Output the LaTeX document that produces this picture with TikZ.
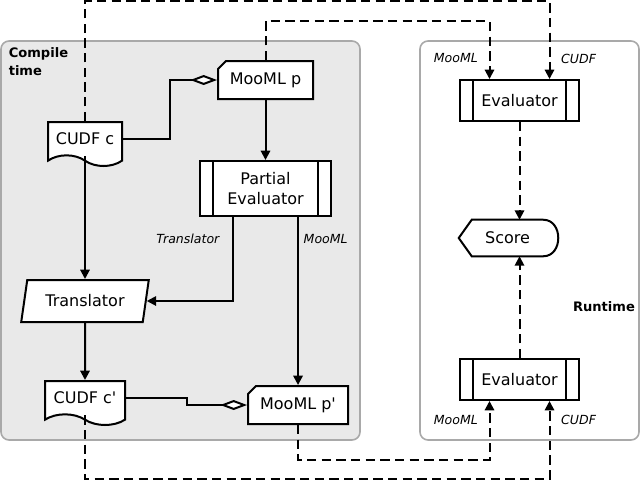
\documentclass[tikz,border=0pt]{standalone}
\usepackage{fontspec}
\setmainfont{DejaVu Sans}
\usepackage{tikz}
\usepackage{xcolor}
\usetikzlibrary{arrows.meta}
\usetikzlibrary{calc}
\usetikzlibrary{shapes.misc}
\usetikzlibrary{shapes.geometric}
\usetikzlibrary{shapes.symbols}
\definecolor{compilebg}{HTML}{E9E9E9}
\definecolor{groupline}{HTML}{A9A9A9}
\newcommand{\boxfont}{\fontsize{12}{14.4}\selectfont}
\newcommand{\tagfont}{\itshape\fontsize{9.4}{11}\selectfont}
\newcommand{\groupfont}{\bfseries\fontsize{9.8}{13.5}\selectfont}
\tikzset{
  % A rounded box grouping one phase
  group/.style={draw=groupline, line width=1.2pt, rounded corners=6pt, inner sep=0pt},
  grouplbl/.style={font=\groupfont, align=left, inner sep=0pt},
  % A program card (cut corner)
  card/.style={
    chamfered rectangle, chamfered rectangle corners=north west,
    chamfered rectangle xsep=3pt, chamfered rectangle ysep=3pt,
    draw, fill=white, line width=1.5pt, font=\boxfont, inner sep=0pt,
    minimum height=28.5pt, minimum width=#1},
  % A document with a wavy bottom
  docu/.style={
    tape, tape bend top=none, tape bend bottom=out and in, tape bend height=8pt,
    draw, fill=white, line width=1.5pt, font=\boxfont, inner sep=0pt,
    minimum height=33pt, minimum width=#1},
  % A predefined process
  proc/.style={
    rectangle, draw, fill=white, line width=1.5pt, font=\boxfont,
    align=center, inner sep=0pt,
    path picture={
      \draw[line width=1.5pt]
        ([xshift=9.5pt]path picture bounding box.north west) -- ([xshift=9.5pt]path picture bounding box.south west)
        ([xshift=-9.5pt]path picture bounding box.north east) -- ([xshift=-9.5pt]path picture bounding box.south east);}},
  % Data in / out
  io/.style={
    trapezium, trapezium left angle=71.6, trapezium right angle=108.4,
    trapezium stretches=true, draw, fill=white, line width=1.5pt,
    font=\boxfont, inner sep=0pt, minimum width=96pt, minimum height=31.5pt},
  % A display
  disp/.style={
    rectangle, font=\boxfont, inner sep=0pt,
    minimum width=53.25pt, minimum height=27pt,
    append after command={\pgfextra{
      \draw[line width=1.5pt]
        (\tikzlastnode.north west) -- (\tikzlastnode.north east)
        .. controls ([xshift=15pt]\tikzlastnode.north east) and ([xshift=15pt]\tikzlastnode.south east) .. (\tikzlastnode.south east)
        -- (\tikzlastnode.south west) -- ([xshift=-9.75pt]\tikzlastnode.west) -- cycle;}}},
  % Relationships
  flow/.style={-{Triangle[length=7pt,width=7pt]}, line width=1.5pt},
  dflow/.style={flow, dash pattern=on 7pt off 4pt},
  agg/.style={-{Diamond[length=20pt,width=7.5pt,fill=white]}, line width=1.5pt},
  tag/.style={font=\tagfont, inner sep=1.5pt},
}
\begin{document}
\begin{tikzpicture}[x=0.75pt, y=-0.75pt]
\useasboundingbox (0,0) rectangle (641,482);

\node[group, fill=compilebg, minimum width=269.25pt, minimum height=299.25pt] (compile) at (180.5,240.5) {};
\node[group, fill=white, minimum width=164.25pt, minimum height=299.25pt] (runtime) at (529.5,240.5) {};
\node[grouplbl, anchor=north west] (compilelbl) at (8.5,47) {Compile\\time};
\node[grouplbl] (runtimelbl) at (604,307) {Runtime};

% compile time
\node[card=71.25pt] (moomlp) at (265.5,80) {MooML p};
\node[docu=55.5pt, anchor=north] (cudfc) at (85,121) {CUDF c};
\node[proc, minimum width=98.25pt, minimum height=41.25pt] (peval) at (265.5,188.5) {Partial\\Evaluator};
\node[io] (trans) at (85,301) {Translator};
\node[docu=60pt, anchor=north] (cudfcp) at (85,380) {CUDF c\textquotesingle};
\node[card=75pt] (moomlpp) at (298,405) {MooML p\textquotesingle};

% runtime
\node[proc, minimum width=89.25pt, minimum height=30.75pt] (evaltop) at (519.5,100.5) {Evaluator};
\node[disp] (score) at (507.5,238) {Score};
\node[proc, minimum width=89.25pt, minimum height=30.75pt] (evalbot) at (519.5,379.5) {Evaluator};

\draw[agg] (cudfc.east) -| ($(cudfc.east)!0.5!(moomlp.west)$) |- (moomlp.west);
\draw[flow] (moomlp.south) -- (peval.north);
\draw[flow] (cudfc.south) -- (cudfc.south |- trans.north);
\draw[flow] ([xshift=-24.4pt]peval.south) |- node[tag, pos=0.13, left=8pt] {Translator} (trans.east);
\draw[flow] ([xshift=24.4pt]peval.south) -- node[tag, pos=0.13, right=2pt] {MooML} ([xshift=24.4pt]peval.south |- moomlpp.north);
\draw[flow] (trans.south) -- (cudfcp.north);
\draw[agg] (cudfcp.east) -| ($(cudfcp.east)!0.5!(moomlpp.west)$) |- (moomlpp.west);

\draw[dflow] (cudfc.north) -- (cudfc.north |- 0,1) -| node[tag, pos=0.87, right=6.5pt] {CUDF} ([xshift=22.5pt]evaltop.north);
\draw[dflow] (moomlp.north) -- (moomlp.north |- 0,21) -| node[tag, pos=0.82, left=6.5pt] {MooML} ([xshift=-22.5pt]evaltop.north);
\draw[dflow] (evaltop.south) -- (evaltop.south |- score.north);
\draw[dflow] (evalbot.north) -- (evalbot.north |- score.south);
\draw[dflow] (moomlpp.south) -- (moomlpp.south |- 0,460) -| node[tag, pos=0.84, left=6.5pt] {MooML} ([xshift=-22.5pt]evalbot.south);
\draw[dflow] (cudfcp.south) -- (cudfcp.south |- 0,479) -| node[tag, pos=0.88, right=6.5pt] {CUDF} ([xshift=22.5pt]evalbot.south);

\end{tikzpicture}
\end{document}
